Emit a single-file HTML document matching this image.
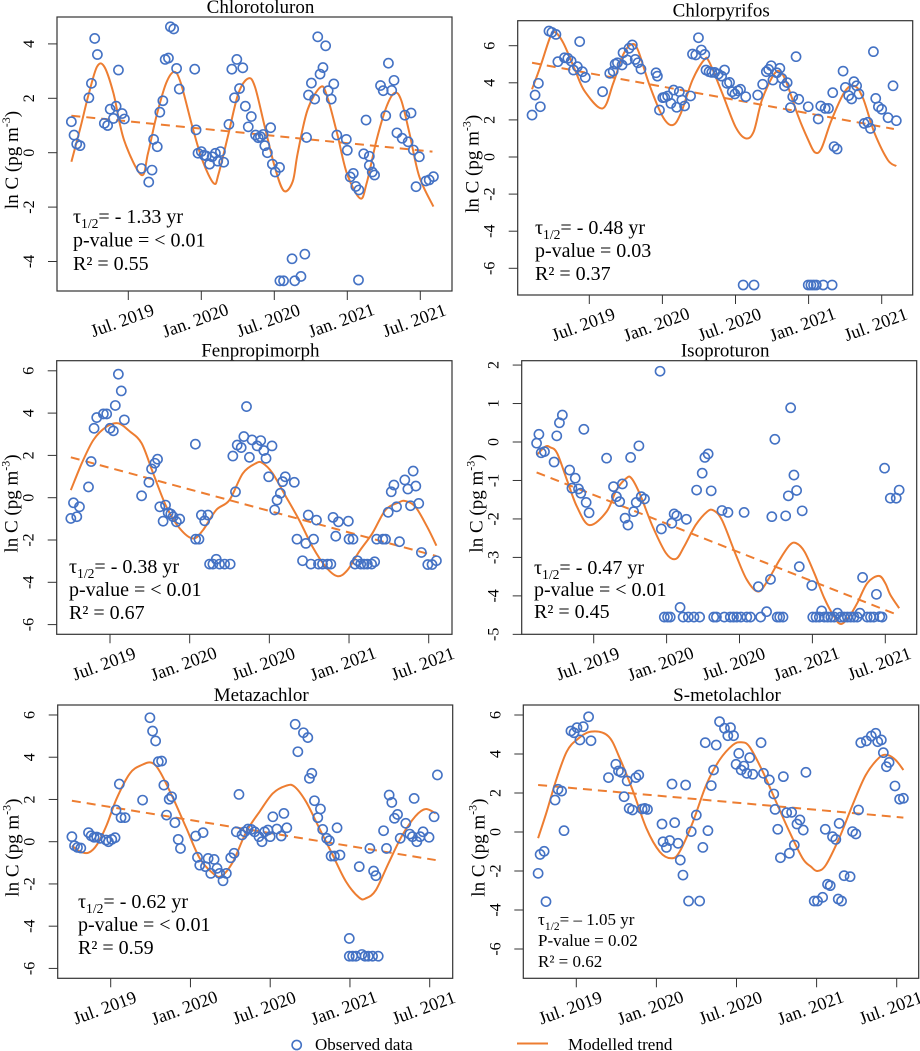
<!DOCTYPE html>
<html><head><meta charset="utf-8"><title>Pesticide trends</title>
<style>html,body{margin:0;padding:0;background:#fff}svg{display:block}svg text{font-family:"Liberation Serif","DejaVu Serif","Times New Roman",serif;fill:#000}</style>
</head><body>
<svg id="chart" xmlns="http://www.w3.org/2000/svg" width="920" height="1051" viewBox="0 0 920 1051">
<g>
<circle cx="296.7" cy="1045" r="4.6" fill="none" stroke="#4472C4" stroke-width="1.6"/>
<text x="315" y="1050" font-size="17">Observed data</text>
<line x1="517" y1="1043.5" x2="548" y2="1043.5" stroke="#ED7D31" stroke-width="2"/>
<text x="568" y="1050" font-size="17">Modelled trend</text>
</g>
</svg>
<script>
const xTickMonths=[6,12,18,24,30];
const xTickLabels=["Jul. 2019","Jan. 2020","Jul. 2020","Jan. 2021","Jul. 2021"];

const p1Title="Chlorotoluron";
const p1YTicks=[-4,-2,0,2,4];
const p1Months=[1.32,1.54,1.76,2.03,2.76,2.97,3.24,3.46,4.03,4.30,4.51,4.78,5.0,5.19,5.49,5.68,7.08,7.68,7.95,8.08,8.38,8.59,8.84,9.03,9.30,9.46,9.73,9.97,10.19,11.46,11.57,11.73,12.0,12.22,12.41,12.68,12.89,13.16,13.35,13.57,13.84,14.27,14.51,14.73,14.92,15.14,15.41,15.62,15.86,16.11,16.46,16.68,16.86,17.08,17.22,17.43,17.7,17.84,18.08,18.43,18.46,18.76,19.46,19.68,20.19,20.51,20.65,20.81,21.05,21.32,21.57,21.76,22.0,22.22,22.43,22.68,22.89,23.14,23.92,24.0,24.24,24.49,24.7,24.92,24.95,25.35,25.54,25.81,25.81,26.05,26.24,26.73,26.95,27.16,27.38,27.65,27.84,28.08,28.51,28.73,29.0,29.24,29.43,29.65,29.92,30.46,30.73,31.08];
const p1Values=[1.14,0.65,0.32,0.26,2.02,2.55,4.2,3.61,1.08,1.0,1.6,1.26,1.71,3.04,1.44,1.24,-0.58,-1.08,-0.64,0.49,0.22,1.49,1.91,3.43,3.48,4.63,4.55,3.1,2.34,3.07,0.84,-0.02,0.04,-0.09,-0.12,-0.42,-0.15,-0.02,-0.31,0.04,-0.35,1.04,3.07,2.02,3.43,2.36,3.12,1.71,0.95,1.33,0.65,0.55,0.59,0.67,0.26,0,0.92,-0.42,-0.71,-0.54,-4.71,-4.71,-3.9,-4.71,-4.55,-3.73,0.56,2.12,2.56,1.97,4.26,2.89,3.13,3.93,2.28,1.97,2.53,0.65,0.49,0.09,-0.89,-0.76,-1.24,-4.68,-1.37,-0.04,1.2,-0.13,-0.47,-0.71,-0.82,2.47,2.28,1.36,3.29,2.29,2.66,0.73,0.53,1.38,0.4,1.46,0.1,-1.25,-0.15,-1.04,-1.0,-0.88];
const p1CurveM=[1.32,2.08,2.76,3.43,4.03,4.78,5.65,7.08,7.62,8.3,9.11,9.78,10.32,11.27,12.08,13.03,13.43,14.24,15.05,15.86,16.41,17.22,18.03,18.78,19.51,19.92,20.73,21.81,22.35,23.16,23.97,25.05,25.59,26.41,27.22,27.89,28.43,29.11,29.92,31.08];
const p1CurveV=[-0.33,0.95,2.18,3.16,3.16,2.18,0.47,-0.82,-0.02,1.32,2.55,2.97,2.55,0.95,-0.27,-1.13,-0.76,0.71,2.18,2.73,2.42,0.95,-0.51,-1.4,-1.06,-0.02,1.57,2.42,2.06,0.71,-0.76,-1.68,-1.13,0.47,1.69,2.2,1.93,0.71,-0.88,-1.98];
const p1TrendM=[1.32,31.0];
const p1TrendV=[1.36,0.04];
const p1Stats=["- 1.33 yr","p-value = < 0.01","0.55"];

const p2Title="Chlorpyrifos";
const p2YTicks=[-6,-4,-2,0,2,4,6];
const p2Months=[1.30,1.55,1.82,1.98,2.69,2.93,3.26,3.42,3.96,4.24,4.51,4.70,5.02,5.21,5.43,5.67,7.09,7.68,7.96,8.12,8.31,8.69,8.77,9.12,9.26,9.53,9.77,9.99,10.24,11.48,11.59,11.76,12.03,12.19,12.43,12.7,12.92,13.17,13.39,13.6,13.82,14.31,14.47,14.74,14.96,15.2,15.48,15.58,15.83,16.05,16.29,16.59,16.86,17.1,17.3,17.51,17.73,17.95,18.19,18.41,18.84,18.63,19.52,19.82,20.23,20.53,20.72,20.93,21.07,21.39,21.64,21.8,22.02,22.24,22.51,22.7,22.97,23.19,23.97,23.97,24.19,24.41,24.63,24.79,25.0,25.2,25.36,25.63,25.93,25.98,26.09,26.34,26.83,27.02,27.29,27.53,27.72,27.94,28.13,28.56,28.86,29.08,29.32,29.51,29.73,30.0,30.52,30.93,31.2];
const p2Values=[2.26,3.34,3.97,2.71,6.79,6.72,6.61,5.14,5.35,5.32,5.17,4.69,4.87,6.22,4.6,4.29,3.52,4.51,4.63,5.01,5.08,4.96,5.62,5.23,5.86,6.04,5.26,5.08,4.74,4.54,4.36,2.53,3.2,3.22,3.29,2.89,3.61,2.68,3.52,3.07,2.75,3.29,5.55,5.5,6.43,5.77,5.53,4.69,4.6,4.56,4.56,4.47,4.36,4.69,3.97,4.02,3.52,3.4,3.57,3.65,3.25,-6.9,-6.9,3.34,3.92,4.6,4.72,4.92,4.15,4.54,4.78,4.24,3.83,4.01,2.66,3.25,5.41,3.11,2.71,-6.9,-6.9,-6.9,-6.9,2.05,2.75,-6.9,2.62,2.62,-6.9,3.47,0.56,0.43,4.63,3.75,3.31,3.13,4.06,3.84,3.4,1.81,1.87,1.54,5.68,3.16,2.71,2.57,2.12,3.84,1.96];
const p2CurveM=[1.30,1.98,2.8,3.2,3.88,4.83,5.65,7.09,7.96,8.77,9.45,9.99,10.94,12.03,12.84,13.51,14.47,15.42,15.83,16.92,18.0,18.82,19.49,20.17,21.12,21.67,22.21,23.16,23.97,24.52,25.06,25.88,26.96,27.77,28.47,29.42,30.5,31.2];
const p2CurveV=[3.65,4.87,6.48,6.72,6.13,4.69,3.52,2.62,3.97,5.5,6.07,5.77,3.88,2.17,1.72,2.35,4.15,5.23,5.14,3.43,1.63,1.01,1.37,3.07,4.42,4.6,3.97,2.17,0.92,0.25,0.47,1.99,3.52,3.83,3.16,1.28,-0.16,-0.49];
const p2TrendM=[1.3,31.0];
const p2TrendV=[5.08,1.51];
const p2Stats=["- 0.48 yr","p-value = 0.03","0.37"];

const p3Title="Fenpropimorph";
const p3YTicks=[-6,-4,-2,0,2,4,6];
const p3Months=[3.05,3.25,3.5,3.7,4.38,4.58,4.8,5.0,5.5,5.75,6.0,6.25,6.4,6.63,6.85,7.08,8.38,8.93,9.13,9.38,9.58,9.75,10.0,10.18,10.38,10.58,10.75,11.0,11.25,12.43,12.45,12.7,12.88,13.13,13.38,13.5,13.75,14.0,14.25,14.63,15.05,15.25,15.45,15.58,15.88,16.08,16.28,16.5,16.7,17.08,17.35,17.58,17.75,17.95,18.2,18.4,18.58,18.83,19.0,19.2,19.88,20.08,20.5,20.75,20.93,21.13,21.33,21.55,21.7,22.0,22.38,22.63,22.8,23.0,23.2,23.95,24.0,24.3,24.45,24.63,24.88,25.13,25.38,25.7,25.93,26.08,26.55,26.75,26.95,27.18,27.38,27.58,27.8,28.2,28.43,28.63,28.83,29.03,29.25,29.45,29.93,30.25,30.58];
const p3Values=[-0.98,-0.24,-0.9,-0.43,0.51,1.71,3.28,3.79,3.96,3.96,3.28,3.16,4.36,5.84,5.05,3.68,0.09,0.73,1.36,1.63,1.82,-0.43,-1.11,-0.35,-0.71,-0.77,-0.9,-1.14,-1.01,2.53,-1.96,-1.96,-0.82,-1.09,-0.82,-3.14,-3.14,-2.91,-3.14,-3.14,-3.14,1.97,0.28,2.49,2.37,2.89,4.31,1.91,2.73,2.45,2.7,2.23,1.86,0.99,2.45,-0.58,-0.11,0.21,0.76,0.99,0.73,-1.96,-2.98,-2.16,-0.82,-3.14,-1.96,-1.06,-3.14,-3.14,-3.14,-3.14,-0.93,-1.82,-1.14,-1.11,-1.96,-1.96,-3.14,-2.98,-3.14,-3.14,-3.14,-3.14,-3.03,-1.96,-1.96,-1.96,-0.69,0.28,0.6,-0.43,-2.08,0.84,0.41,-0.38,1.26,0.55,-0.27,-2.59,-3.16,-3.16,-2.98];
const p3CurveM=[3.05,3.88,4.75,5.75,6.63,7.5,8.38,9.25,10.25,11.25,12.25,13.0,14.0,15.0,16.0,17.0,17.5,18.25,19.25,20.25,21.25,22.25,23.13,23.88,24.75,25.75,26.75,27.75,28.25,29.0,29.88,30.58];
const p3CurveV=[0.36,1.63,2.73,3.36,3.52,3.13,2.57,1.15,-0.43,-1.45,-1.93,-1.53,-0.58,-0.11,1.15,1.63,1.63,1.15,0.05,-1.06,-2.32,-3.27,-3.71,-3.43,-2.56,-1.69,-0.58,-0.22,-0.16,-0.43,-1.37,-2.27];
const p3TrendM=[3.05,30.58];
const p3TrendV=[1.91,-2.76];
const p3Stats=["- 0.38 yr","p-value = < 0.01","0.67"];

const p4Title="Isoproturon";
const p4YTicks=[-5,-4,-3,-2,-1,0,1,2];
const p4Months=[1.30,1.49,1.68,1.95,2.74,2.96,3.18,3.42,4.02,4.21,4.48,4.75,4.94,5.19,5.38,5.62,7.06,7.63,7.87,8.14,8.36,8.58,8.82,9.04,9.29,9.5,9.72,9.91,10.18,11.46,11.57,11.81,12.08,12.3,12.43,12.62,12.84,13.11,13.36,13.63,13.79,14.25,14.72,14.47,14.93,15.15,15.42,15.67,15.88,16.1,16.56,16.75,17.05,17.24,17.51,17.78,18.11,18.38,18.6,18.9,19.55,19.74,20.23,20.55,20.66,20.91,21.1,21.31,21.58,21.8,22.02,22.21,22.48,22.7,22.92,23.16,23.95,24.03,24.3,24.57,24.76,24.98,25.25,25.52,25.79,26.07,26.34,26.61,26.88,27.15,27.42,27.69,27.91,28.13,28.51,28.78,29.05,29.27,29.54,29.73,29.94,30.41,30.9,31.14];
const p4Values=[-0.03,0.2,-0.28,-0.25,-0.52,0.16,0.5,0.7,-0.73,-1.2,-0.94,-1.22,-1.33,0.33,-1.57,-1.84,-0.42,-1.16,-1.42,-1.55,-1.09,-1.98,-2.16,-0.4,-1.81,-1.57,-0.1,-1.42,-1.48,1.84,-2.26,-4.55,-4.55,-4.55,-2.11,-1.87,-1.92,-4.3,-4.55,-2.01,-4.55,-4.55,-4.55,-1.25,-0.81,-0.4,-0.31,-1.27,-4.55,-4.55,-1.78,-4.55,-1.83,-4.55,-4.55,-4.55,-4.55,-1.83,-4.55,-4.55,-3.76,-4.55,-4.41,-3.57,-1.94,0.07,-4.55,-4.55,-4.55,-1.92,-1.4,0.89,-0.86,-1.26,-3.24,-1.79,-3.73,-4.55,-4.55,-4.55,-4.39,-4.55,-4.55,-4.55,-4.55,-4.45,-4.55,-4.55,-4.55,-4.55,-4.55,-4.55,-4.45,-3.52,-4.55,-4.55,-4.55,-3.96,-4.54,-4.55,-0.68,-1.46,-1.46,-1.25];
const p4CurveM=[1.3,2.02,2.44,2.99,3.8,4.62,5.65,7.06,7.87,8.69,9.1,9.77,10.86,11.95,12.76,13.44,14.39,15.34,15.88,16.56,17.65,18.6,19.55,20.36,21.31,22.13,22.67,23.35,24.16,24.98,25.79,26.34,27.02,27.69,28.51,29.46,30.0,30.41,31.14];
const p4CurveV=[-0.34,-0.12,-0.14,-0.29,-0.99,-1.68,-2.16,-1.81,-1.25,-0.94,-0.94,-1.33,-2.2,-2.89,-3.04,-2.72,-2.16,-1.81,-1.78,-2.03,-2.89,-3.58,-3.89,-3.58,-3.06,-2.68,-2.63,-2.85,-3.41,-4.06,-4.54,-4.73,-4.54,-4.19,-3.67,-3.48,-3.67,-3.97,-4.32];
const p4TrendM=[1.3,31.14];
const p4TrendV=[-0.79,-4.51];
const p4Stats=["- 0.47 yr","p-value = < 0.01","0.45"];

const p5Title="Metazachlor";
const p5YTicks=[-6,-4,-2,0,2,4,6];
const p5Months=[3.08,3.28,3.5,3.75,4.33,4.53,4.75,4.95,5.2,5.65,5.83,6.08,6.33,6.4,6.65,6.78,7.08,8.4,8.95,9.15,9.38,9.58,9.83,10.0,10.2,10.4,10.58,10.83,11.08,11.25,12.4,12.53,12.7,12.95,13.13,13.33,13.53,13.78,14.0,14.2,14.45,14.7,15.03,15.28,15.45,15.65,15.88,16.08,16.33,16.58,16.83,17.15,17.38,17.58,17.83,18.0,18.2,18.5,18.83,19.03,19.25,19.88,20.08,20.5,20.83,20.95,21.13,21.33,21.58,21.78,21.95,22.25,22.45,22.58,22.83,23.03,23.25,23.95,23.95,24.2,24.45,24.7,24.9,25.13,25.38,25.5,25.7,25.78,25.95,26.13,26.53,26.75,26.95,27.15,27.35,27.58,27.78,28.2,28.5,28.83,28.7,29.03,29.28,29.5,29.95,30.33,30.58];
const p5Values=[0.24,-0.19,-0.27,-0.3,0.43,0.28,0.21,0.22,0.16,0.08,0,0.11,0.19,1.5,2.73,1.14,1.14,1.97,5.87,5.24,4.77,3.79,3.82,2.68,1.26,2.01,2.13,0.9,0.11,-0.32,0.27,-0.74,-1.11,0.43,-1.18,-0.79,-1.5,-0.84,-1.26,-1.5,-1.85,-1.5,-0.76,-0.55,0.47,2.24,0.32,0.47,0.6,0.58,0.47,0.24,0,0.47,0.55,0.24,1.18,0.6,0.27,1.34,0.66,5.56,4.26,5.16,4.93,3.0,3.24,1.94,1.14,1.55,0.58,0.16,0.05,-0.68,-0.68,0.66,-0.63,-4.58,-5.42,-5.42,-5.42,-1.18,-5.34,-5.42,-5.42,-0.32,-5.42,-1.39,-1.61,-5.42,0.52,-0.32,2.21,1.86,1.11,1.29,0.16,0.87,0.36,2.05,0.24,0,0.24,0.47,0.21,1.18,3.16];
const p5CurveM=[3.08,3.7,4.33,4.95,5.7,6.45,7.45,8.33,9.08,9.7,10.7,11.7,12.7,13.7,14.33,15.2,16.2,17.2,18.2,19.2,19.83,20.7,21.7,22.7,23.7,24.7,25.2,25.95,26.95,27.95,28.95,29.7,30.45];
const p5CurveV=[-0.19,-0.47,-0.52,-0.16,0.79,2.05,3.24,3.63,3.74,3.32,2.05,0.63,-0.79,-1.5,-1.63,-0.95,0.47,1.42,2.29,2.65,2.61,1.89,0.63,-0.63,-1.89,-2.65,-2.68,-2.29,-0.95,0.32,1.22,1.55,1.34];
const p5TrendM=[3.08,30.45];
const p5TrendV=[1.94,-0.87];
const p5Stats=["- 0.62 yr","p-value = < 0.01","0.59"];

const p6Title="S-metolachlor";
const p6YTicks=[-6,-4,-2,0,2,4,6];
const p6Months=[3.14,3.29,3.59,3.73,4.41,4.63,4.9,5.08,5.6,5.83,6.05,6.27,6.52,6.92,7.1,8.41,8.96,9.16,9.36,9.58,9.81,9.96,10.21,10.46,10.68,10.93,11.13,11.33,12.42,12.5,12.75,13.0,13.17,13.37,13.62,13.79,13.99,14.19,14.41,14.61,14.99,15.24,15.48,15.66,15.86,16.11,16.28,16.48,16.73,17.1,17.35,17.55,17.78,17.97,18.17,18.35,18.55,18.77,18.99,19.22,19.84,20.02,20.46,20.79,20.89,21.09,21.29,21.51,21.76,21.96,22.13,22.33,22.53,22.75,23.0,23.2,23.82,24.07,24.45,24.65,24.82,25.02,25.19,25.44,25.69,25.62,25.87,26.06,26.51,26.69,26.94,27.14,27.31,27.73,28.1,28.43,28.58,28.85,29.0,29.23,29.43,29.87,30.22,30.5];
const p6Values=[-2.12,-1.15,-0.99,-3.57,1.64,2.19,2.1,0.07,5.18,5.09,5.35,4.72,5.4,5.91,4.68,2.79,3.47,3.13,3.06,1.81,2.62,1.21,1.13,2.79,2.92,1.18,1.21,1.16,0.41,-0.5,-0.79,-0.44,2.46,0.48,-0.58,-1.44,-2.21,2.41,-3.54,0.02,0.87,-3.54,-0.79,4.58,0.07,2.38,3.18,4.46,5.66,5.32,4.94,5.35,4.94,3.47,4.03,3.18,3.38,3.01,3.81,2.96,4.58,3.01,2.67,1.95,1.16,0.14,-1.32,2.84,0.99,-1.09,1.01,-0.67,0.41,0.62,0.1,3.06,-3.54,-3.54,-3.35,0.14,-2.68,-2.75,-0.24,-0.38,0.44,-3.44,-3.54,-2.24,-2.29,0.02,-0.1,1.13,4.58,4.67,4.92,5.06,4.63,4.72,4.07,3.35,3.57,2.36,1.68,1.73];
const p6CurveM=[3.14,3.78,4.53,5.28,6.02,7.1,8.39,9.26,10.26,11.25,12.25,13.12,13.74,14.74,15.73,16.73,17.72,18.35,18.97,19.97,20.96,21.96,22.95,23.58,24.07,24.7,25.69,26.69,27.68,28.68,29.3,29.92,30.5];
const p6CurveV=[-0.32,1.04,2.75,4.12,4.72,5.15,4.92,3.78,2.07,0.19,-1.01,-1.35,-1.01,0.53,2.41,3.69,4.46,4.6,4.38,3.09,1.56,0.02,-1.35,-1.78,-2.0,-1.69,-0.32,1.38,2.92,3.81,3.95,3.69,3.18];
const p6TrendM=[3.14,30.5];
const p6TrendV=[2.41,0.74];
const p6Stats=["\u2013 1.05 yr","P-value = 0.02","0.62"];

const NS="http://www.w3.org/2000/svg";
const svg=document.getElementById('chart');
function mk(tag,attrs,parent){const e=document.createElementNS(NS,tag);for(const k in attrs)e.setAttribute(k,attrs[k]);(parent||svg).appendChild(e);return e;}
function smoothPath(pts){let d='M'+pts[0][0].toFixed(1)+','+pts[0][1].toFixed(1);for(let i=0;i<pts.length-1;i++){const p0=pts[i-1]||pts[i],p1=pts[i],p2=pts[i+1],p3=pts[i+2]||p2;const c1=[p1[0]+(p2[0]-p0[0])/6,p1[1]+(p2[1]-p0[1])/6],c2=[p2[0]-(p3[0]-p1[0])/6,p2[1]-(p3[1]-p1[1])/6];d+=' C'+c1[0].toFixed(1)+','+c1[1].toFixed(1)+' '+c2[0].toFixed(1)+','+c2[1].toFixed(1)+' '+p2[0].toFixed(1)+','+p2[1].toFixed(1);}return d;}

function drawPanel(id,cfg,title,yTicks,months,values,cM,cV,tM,tV,stats){
  const g=mk('g',{});
  
  
  const xs=m=>cfg.x6+(m-6)*(cfg.x30-cfg.x6)/24;
  const ys=v=>cfg.y0-v*cfg.yu;
  const t=mk('text',{x:(cfg.L+cfg.R)/2+6,y:cfg.T-4,'font-size':19,'text-anchor':'middle'},g);
  
  
  t.textContent=title;
  const box=mk('rect',{x:cfg.L,y:cfg.T,width:cfg.R-cfg.L,height:cfg.B-cfg.T,fill:'none',stroke:'#333',"stroke-width":1.2},g);
  
  
  yTicks.forEach(v=>{const y=ys(v);
    const tl=mk('line',{x1:cfg.L-9,x2:cfg.L,y1:y,y2:y,stroke:'#333'},g);
    
    
    const lb=mk('text',{x:0,y:0,'font-size':16,'text-anchor':'middle',transform:'translate('+(cfg.L-23)+','+y+') rotate(-90)'},g);
    
    
    lb.textContent=String(v);});
  xTickMonths.forEach((m,i)=>{const x=xs(m);
    const tl=mk('line',{x1:x,x2:x,y1:cfg.B,y2:cfg.B+9,stroke:'#333'},g);
    
    
    const lb=mk('text',{x:0,y:0,'font-size':18,'text-anchor':'middle',transform:'translate('+(x-4)+','+(cfg.B+35)+') rotate(-20)'},g);
    
    
    lb.textContent=xTickLabels[i];});
  const yt=mk('text',{x:0,y:0,'font-size':19,'text-anchor':'middle',transform:'translate('+(cfg.L-39)+','+((cfg.T+cfg.B)/2+6)+') rotate(-90)'},g);
  
  
  yt.innerHTML='ln C (pg m<tspan font-size="12" dy="-8">-3</tspan><tspan dy="8">)</tspan>';
  const tr=mk('line',{x1:xs(tM[0]),y1:ys(tV[0]),x2:xs(tM[1]),y2:ys(tV[1]),stroke:'#ED7D31','stroke-width':2,'stroke-dasharray':'9,6'},g);
  
  
  const pts=cM.map((m,i)=>[xs(m),ys(cV[i])]);
  const cp=mk('path',{d:smoothPath(pts),fill:'none',stroke:'#ED7D31','stroke-width':2},g);
  
  
  months.forEach((m,i)=>{
    const c=mk('circle',{cx:xs(m),cy:ys(values[i]),r:4.6,fill:'none',stroke:'#4472C4','stroke-width':1.6},g);
    
    });
  const fs=cfg.fs||20;
  const s1=mk('text',{x:cfg.sx,y:cfg.sy,'font-size':fs},g);
  
  
  s1.innerHTML='\u03C4<tspan font-size="'+(fs*0.68)+'" dy="5">1/2</tspan><tspan dy="-5">= '+stats[0]+'</tspan>';
  const s2=mk('text',{x:cfg.sx,y:cfg.sy+cfg.sd,'font-size':fs},g);
  
  
  s2.textContent=stats[1];
  const s3=mk('text',{x:cfg.sx,y:cfg.sy+2*cfg.sd,'font-size':fs},g);
  
  
  s3.textContent='R\u00B2 = '+stats[2];
}
drawPanel('chlorotoluron',{L:57,R:452,T:17,B:291,x6:128.3,x30:420.3,y0:152.7,yu:27.2,sx:73,sy:223,sd:23.5},p1Title,p1YTicks,p1Months,p1Values,p1CurveM,p1CurveV,p1TrendM,p1TrendV,p1Stats);
drawPanel('chlorpyrifos',{L:517.7,R:912.7,T:20.7,B:295,x6:589.3,x30:881.7,y0:157,yu:18.55,sx:535,sy:234,sd:23}, p2Title,p2YTicks,p2Months,p2Values,p2CurveM,p2CurveV,p2TrendM,p2TrendV,p2Stats);
drawPanel('fenpropimorph',{L:56.7,R:452,T:360.7,B:634.3,x6:110,x30:428.7,y0:497.7,yu:21.15,sx:69,sy:573,sd:23},p3Title,p3YTicks,p3Months,p3Values,p3CurveM,p3CurveV,p3TrendM,p3TrendV,p3Stats);
drawPanel('isoproturon',{L:521.7,R:916.7,T:360.7,B:634.3,x6:593.7,x30:885.3,y0:442,yu:38.47,sx:534,sy:574,sd:22},p4Title,p4YTicks,p4Months,p4Values,p4CurveM,p4CurveV,p4TrendM,p4TrendV,p4Stats);
drawPanel('metazachlor',{L:57.7,R:452.7,T:705,B:978.3,x6:110.7,x30:429.7,y0:841.7,yu:21.12,sx:78,sy:908,sd:23},p5Title,p5YTicks,p5Months,p5Values,p5CurveM,p5CurveV,p5TrendM,p5TrendV,p5Stats);
drawPanel('s-metolachlor',{L:523.3,R:918.7,T:705,B:978.3,x6:576.3,x30:896.7,y0:832,yu:19.5,sx:538,sy:925,sd:21,fs:17},p6Title,p6YTicks,p6Months,p6Values,p6CurveM,p6CurveV,p6TrendM,p6TrendV,p6Stats);
</script>
</body></html>
